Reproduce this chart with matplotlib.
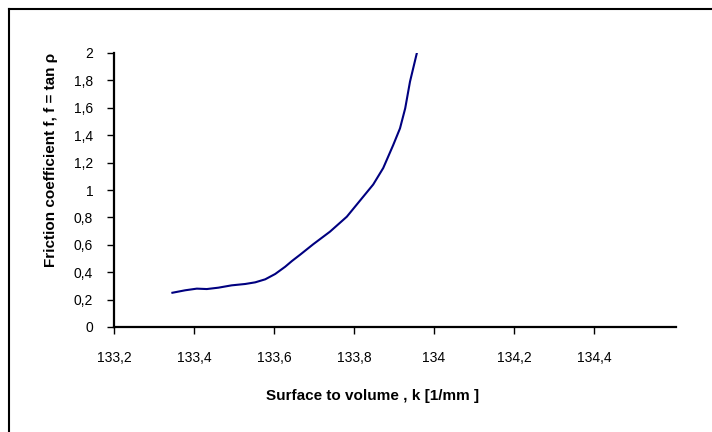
import matplotlib
matplotlib.use("Agg")
import matplotlib.pyplot as plt
from matplotlib.lines import Line2D
from matplotlib.ticker import FuncFormatter

plt.rcParams['font.family'] = ['Liberation Sans', 'DejaVu Sans']

# values
k_values = [133.346, 133.378, 133.407, 133.432, 133.461, 133.494, 133.528, 133.553,
            133.578, 133.603, 133.628, 133.645, 133.665, 133.698, 133.74, 133.782,
            133.823, 133.848, 133.873, 133.898, 133.915, 133.928, 133.94, 133.957]
f_values = [0.250, 0.268, 0.280, 0.277, 0.287, 0.304, 0.314, 0.326,
            0.348, 0.387, 0.440, 0.482, 0.527, 0.604, 0.696, 0.805,
            0.951, 1.040, 1.160, 1.328, 1.450, 1.596, 1.791, 1.998]
x_ticks = [133.2, 133.4, 133.6, 133.8, 134.0, 134.2, 134.4]
y_ticks = [0, 0.2, 0.4, 0.6, 0.8, 1.0, 1.2, 1.4, 1.6, 1.8, 2.0]

fig = plt.figure(figsize=(7.12, 4.32), dpi=100)
ax = fig.add_axes([114/712, 1 - 327/432, (676-114)/712, (327-53)/432])

ax.plot(k_values, f_values, color='#000080', lw=1.5, solid_joinstyle='round')

ax.set_xlim(133.2, 134.605)
ax.set_ylim(0, 2)
ax.set_xticks(x_ticks)
ax.set_yticks(y_ticks)

def comma(v, pos):
    s = f"{v:.1f}".rstrip('0').rstrip('.')
    return s.replace('.', ',')

ax.xaxis.set_major_formatter(FuncFormatter(comma))
ax.yaxis.set_major_formatter(FuncFormatter(comma))

for side in ['top', 'right']:
    ax.spines[side].set_visible(False)
for side in ['left', 'bottom']:
    ax.spines[side].set_linewidth(1.6)

ax.tick_params(axis='both', direction='out', length=5, width=1, labelsize=10)
ax.tick_params(axis='y', pad=10)
ax.tick_params(axis='x', pad=12)

ax.set_xlabel("Surface to volume , k [1/mm ]", fontsize=11, fontweight='bold')
ax.set_ylabel("Friction coefficient f, f = tan ρ", fontsize=11, fontweight='bold')
ax.xaxis.set_label_coords(0.46, -0.226)
ax.yaxis.set_label_coords(-0.100, 0.608)

# outer chart frame (only left and top edges are visible)
fig.add_artist(Line2D([9/712, 9/712], [0, 1 - 9/432], transform=fig.transFigure, color='black', lw=1.5))
fig.add_artist(Line2D([9/712, 1], [1 - 9/432, 1 - 9/432], transform=fig.transFigure, color='black', lw=1.5))

fig.savefig("out.png", dpi=100)
